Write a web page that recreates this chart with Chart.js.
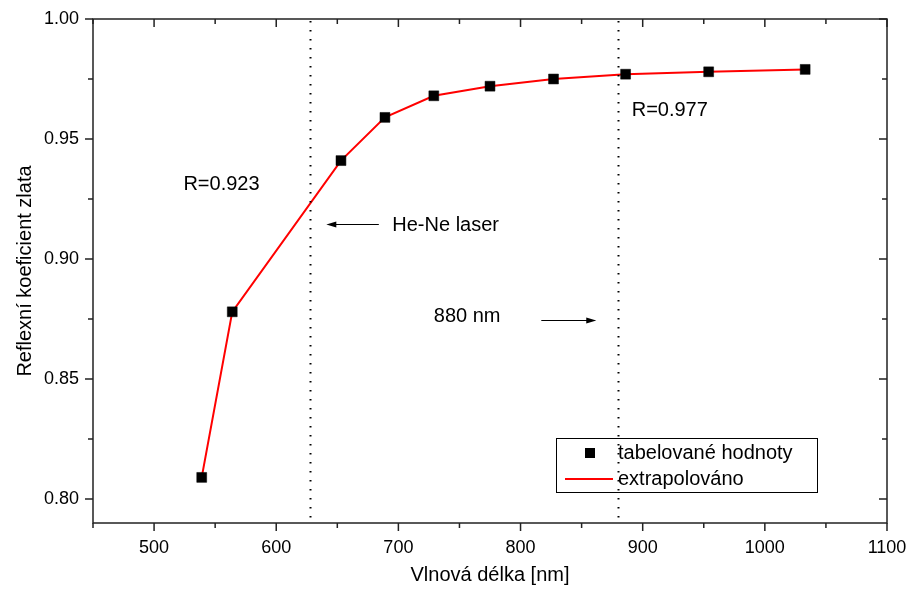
<!DOCTYPE html>
<html>
<head>
<meta charset="utf-8">
<script src="https://cdn.jsdelivr.net/npm/chart.js@4/dist/chart.umd.min.js"></script>
<style>
  body { margin: 0; background: #fff; }
  #wrap { width: 909px; height: 591px; }
</style>
</head>
<body>
<div id="wrap"><canvas id="myChart" width="909" height="591"></canvas></div>
<script>
// vlnove delky [nm] a odrazivost zlata
const wavelengths = [539, 564, 653, 689, 729, 775, 827, 886, 954, 1033];
const reflectance = [0.809, 0.878, 0.941, 0.959, 0.968, 0.972, 0.975, 0.977, 0.978, 0.979];

// svisle teckovane cary (He-Ne laser, 880 nm)
const markerLines = [628, 880];

// popisky v grafu
const notes = [
    { text: 'R=0.923', x: 524, y: 0.931 },
    { text: 'He-Ne laser', x: 695, y: 0.914 },
    { text: '880 nm', x: 729, y: 0.876 },
    { text: 'R=0.977', x: 891, y: 0.962 }
];
const arrows = [
    { from: 684, to: 641, y: 0.9146 },
    { from: 817, to: 862, y: 0.8746 }
];

const seriesNames = ['tabelované hodnoty', 'extrapolováno'];
const FONT = "'Liberation Sans', Arial, sans-serif";

const points = wavelengths.map((w, i) => ({ x: w, y: reflectance[i] }));

function isMajor(v, step) {
    const r = v / step;
    return Math.abs(r - Math.round(r)) < 1e-6;
}

// ramecek, carky na osach, cary, sipky, popisky a legenda
const decorPlugin = {
    id: 'decor',
    afterDatasetsDraw(chart) {
        const ctx = chart.ctx;
        const { left, right, top, bottom } = chart.chartArea;
        const xs = chart.scales.x, ys = chart.scales.y;
        ctx.save();

        // teckovane cary
        ctx.strokeStyle = '#000';
        ctx.lineWidth = 2;
        ctx.setLineDash([1.5, 7.5]);
        markerLines.forEach(w => {
            const px = Math.round(xs.getPixelForValue(w)) + 0.5;
            ctx.beginPath();
            ctx.moveTo(px, top + 2);
            ctx.lineTo(px, bottom);
            ctx.stroke();
        });
        ctx.setLineDash([]);

        // ramecek
        ctx.strokeStyle = '#222';
        ctx.lineWidth = 1.5;
        ctx.strokeRect(left, top, right - left, bottom - top);

        // carky
        ctx.lineWidth = 1.5;
        xs.ticks.forEach(t => {
            if (!isMajor(t.value, 50)) return;
            const len = isMajor(t.value, 100) ? 8 : 5;
            const px = xs.getPixelForValue(t.value);
            ctx.beginPath();
            ctx.moveTo(px, bottom); ctx.lineTo(px, bottom + len);
            ctx.moveTo(px, top); ctx.lineTo(px, top + len);
            ctx.stroke();
        });
        ys.ticks.forEach(t => {
            if (!isMajor(t.value, 0.025)) return;
            const len = isMajor(t.value, 0.05) ? 8 : 5;
            const py = ys.getPixelForValue(t.value);
            ctx.beginPath();
            ctx.moveTo(left, py); ctx.lineTo(left - len, py);
            ctx.moveTo(right, py); ctx.lineTo(right - len, py);
            ctx.stroke();
        });

        // sipky
        ctx.strokeStyle = '#000';
        ctx.fillStyle = '#000';
        ctx.lineWidth = 1;
        arrows.forEach(a => {
            const x1 = xs.getPixelForValue(a.from);
            const x2 = xs.getPixelForValue(a.to);
            const py = Math.round(ys.getPixelForValue(a.y)) + 0.5;
            const dir = Math.sign(x2 - x1);
            ctx.beginPath();
            ctx.moveTo(x1, py); ctx.lineTo(x2 - dir * 6, py);
            ctx.stroke();
            ctx.beginPath();
            ctx.moveTo(x2, py);
            ctx.lineTo(x2 - dir * 10, py - 3);
            ctx.lineTo(x2 - dir * 10, py + 3);
            ctx.closePath();
            ctx.fill();
        });

        // popisky
        ctx.font = '20px ' + FONT;
        ctx.textAlign = 'left';
        ctx.textBaseline = 'middle';
        notes.forEach(n => {
            ctx.fillText(n.text, xs.getPixelForValue(n.x), ys.getPixelForValue(n.y));
        });

        // legenda
        const bx = right - 331, by = bottom - 85, bw = 261, bh = 54;
        ctx.strokeStyle = '#000';
        ctx.lineWidth = 1;
        ctx.strokeRect(bx + 0.5, by + 0.5, bw, bh);
        ctx.fillStyle = '#000';
        ctx.fillRect(bx + 29, by + 10, 10, 10);
        ctx.strokeStyle = '#ff0000';
        ctx.lineWidth = 2;
        ctx.beginPath();
        ctx.moveTo(bx + 9, by + 41); ctx.lineTo(bx + 57, by + 41);
        ctx.stroke();
        ctx.fillStyle = '#000';
        ctx.font = '20px ' + FONT;
        ctx.fillText(seriesNames[0], bx + 62, by + 15);
        ctx.fillText(seriesNames[1], bx + 62, by + 41);

        ctx.restore();
    }
};

new Chart(document.getElementById('myChart').getContext('2d'), {
    type: 'scatter',
    data: {
        datasets: [
            {
                label: seriesNames[0],
                data: points,
                showLine: false,
                pointStyle: 'rect',
                pointRadius: 7,
                pointBackgroundColor: '#000',
                pointBorderColor: '#000',
                pointBorderWidth: 0.5,
                order: 0
            },
            {
                label: seriesNames[1],
                data: points,
                showLine: true,
                borderColor: '#ff0000',
                borderWidth: 2,
                pointRadius: 0,
                tension: 0,
                order: 1
            }
        ]
    },
    options: {
        responsive: false,
        animation: false,
        devicePixelRatio: 1,
        layout: { padding: { left: 0, top: 19, right: 22, bottom: 0 } },
        plugins: {
            legend: { display: false },
            tooltip: { enabled: false }
        },
        scales: {
            x: {
                type: 'linear',
                min: 450,
                max: 1100,
                grid: { display: false },
                border: { display: false },
                ticks: {
                    stepSize: 50,
                    autoSkip: false,
                    maxRotation: 0,
                    padding: 6,
                    color: '#000',
                    font: { family: FONT, size: 18 },
                    callback: v => isMajor(v, 100) ? String(v) : ''
                },
                title: {
                    display: true,
                    text: 'Vlnová délka [nm]',
                    color: '#000',
                    font: { family: FONT, size: 20 },
                    padding: { top: 4, bottom: 4 }
                },
                afterFit: s => {
                    s.height = 68;
                    s.paddingLeft = 0; s.paddingRight = 0;
                }
            },
            y: {
                min: 0.79,
                max: 1.0,
                grid: { display: false },
                border: { display: false },
                ticks: {
                    stepSize: 0.025,
                    autoSkip: false,
                    padding: 6,
                    color: '#000',
                    font: { family: FONT, size: 18 },
                    callback: v => isMajor(v, 0.05) ? v.toFixed(2) : ''
                },
                title: {
                    display: true,
                    text: 'Reflexní koeficient zlata',
                    color: '#000',
                    font: { family: FONT, size: 20 },
                    padding: { top: 13, bottom: 4 }
                },
                afterFit: s => {
                    s.width = 93;
                    s.paddingTop = 0; s.paddingBottom = 0;
                }
            }
        }
    },
    plugins: [decorPlugin]
});
</script>
</body>
</html>
